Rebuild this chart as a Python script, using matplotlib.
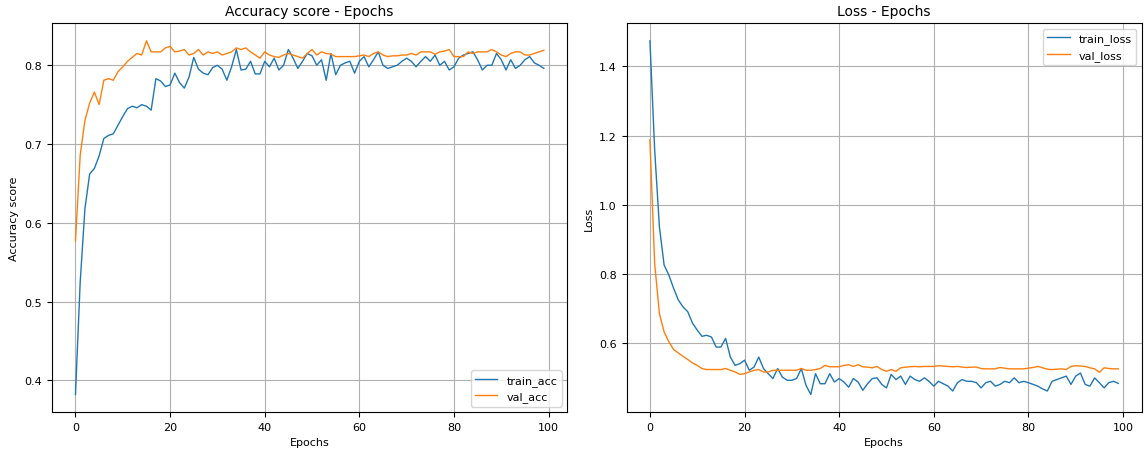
import matplotlib
matplotlib.use('Agg')
import matplotlib.pyplot as plt

# Valores (100 épocas)
epochs = list(range(100))

train_acc = [
    0.382, 0.525, 0.618, 0.662, 0.669, 0.685, 0.707, 0.711, 0.713, 0.724,
    0.735, 0.745, 0.748, 0.746, 0.750, 0.748, 0.743, 0.783, 0.780, 0.773,
    0.775, 0.790, 0.778, 0.771, 0.785, 0.810, 0.795, 0.790, 0.788, 0.797,
    0.800, 0.795, 0.781, 0.798, 0.820, 0.794, 0.795, 0.805, 0.789, 0.789,
    0.805, 0.798, 0.809, 0.794, 0.800, 0.820, 0.809, 0.796, 0.805, 0.815,
    0.812, 0.800, 0.807, 0.781, 0.815, 0.788, 0.800, 0.803, 0.805, 0.790,
    0.805, 0.811, 0.798, 0.807, 0.817, 0.800, 0.796, 0.798, 0.800, 0.805,
    0.809, 0.805, 0.798, 0.805, 0.811, 0.805, 0.813, 0.800, 0.805, 0.794,
    0.798, 0.809, 0.813, 0.815, 0.817, 0.807, 0.794, 0.800, 0.800, 0.815,
    0.807, 0.794, 0.807, 0.796, 0.800, 0.807, 0.811, 0.803, 0.800, 0.796,
]

val_acc = [
    0.577, 0.686, 0.730, 0.752, 0.766, 0.750, 0.781, 0.783, 0.781, 0.792,
    0.798, 0.805, 0.810, 0.815, 0.813, 0.831, 0.817, 0.817, 0.817, 0.822,
    0.824, 0.817, 0.818, 0.820, 0.813, 0.815, 0.820, 0.813, 0.817, 0.815,
    0.817, 0.813, 0.815, 0.817, 0.822, 0.820, 0.822, 0.817, 0.813, 0.809,
    0.817, 0.813, 0.811, 0.810, 0.813, 0.815, 0.813, 0.811, 0.809, 0.815,
    0.820, 0.813, 0.817, 0.815, 0.814, 0.811, 0.811, 0.811, 0.811, 0.811,
    0.812, 0.813, 0.811, 0.815, 0.817, 0.813, 0.811, 0.812, 0.812, 0.813,
    0.813, 0.815, 0.813, 0.817, 0.817, 0.817, 0.814, 0.817, 0.818, 0.820,
    0.811, 0.811, 0.811, 0.817, 0.815, 0.817, 0.817, 0.817, 0.820, 0.817,
    0.813, 0.811, 0.815, 0.817, 0.817, 0.813, 0.813, 0.815, 0.817, 0.819,
]

train_loss = [
    1.474, 1.160, 0.937, 0.826, 0.797, 0.759, 0.725, 0.705, 0.691, 0.658,
    0.638, 0.620, 0.623, 0.618, 0.589, 0.589, 0.614, 0.560, 0.536, 0.541,
    0.551, 0.522, 0.531, 0.560, 0.527, 0.512, 0.498, 0.527, 0.502, 0.493,
    0.493, 0.498, 0.527, 0.478, 0.452, 0.512, 0.483, 0.483, 0.512, 0.488,
    0.498, 0.488, 0.473, 0.498, 0.488, 0.464, 0.483, 0.498, 0.500, 0.481,
    0.471, 0.510, 0.495, 0.505, 0.481, 0.505, 0.495, 0.490, 0.500, 0.490,
    0.476, 0.490, 0.483, 0.476, 0.462, 0.486, 0.495, 0.490, 0.490, 0.486,
    0.471, 0.486, 0.490, 0.476, 0.481, 0.490, 0.486, 0.500, 0.486, 0.490,
    0.486, 0.481, 0.476, 0.468, 0.462, 0.490, 0.495, 0.500, 0.505, 0.481,
    0.505, 0.514, 0.481, 0.476, 0.500, 0.486, 0.471, 0.486, 0.490, 0.484,
]

val_loss = [
    1.188, 0.831, 0.686, 0.633, 0.604, 0.582, 0.572, 0.562, 0.553, 0.543,
    0.536, 0.527, 0.524, 0.524, 0.524, 0.524, 0.527, 0.522, 0.517, 0.510,
    0.512, 0.517, 0.522, 0.524, 0.517, 0.517, 0.522, 0.522, 0.522, 0.522,
    0.522, 0.522, 0.527, 0.522, 0.522, 0.524, 0.527, 0.536, 0.532, 0.532,
    0.532, 0.536, 0.538, 0.533, 0.538, 0.532, 0.531, 0.529, 0.533, 0.524,
    0.519, 0.524, 0.519, 0.529, 0.531, 0.532, 0.533, 0.532, 0.533, 0.533,
    0.533, 0.535, 0.534, 0.533, 0.532, 0.533, 0.531, 0.530, 0.531, 0.531,
    0.527, 0.526, 0.526, 0.526, 0.530, 0.528, 0.526, 0.526, 0.526, 0.526,
    0.528, 0.530, 0.533, 0.529, 0.525, 0.524, 0.525, 0.526, 0.524, 0.533,
    0.535, 0.534, 0.533, 0.529, 0.526, 0.516, 0.529, 0.527, 0.526, 0.526,
]

plt.rcParams['font.size'] = 8

fig, (ax1, ax2) = plt.subplots(1, 2, figsize=(11.44, 4.56), dpi=100)
fig.subplots_adjust(left=0.0455, right=0.998, bottom=0.094, top=0.947, wspace=0.115)

# Acurácia
ax1.plot(epochs, train_acc, label='train_acc', linewidth=1.0)
ax1.plot(epochs, val_acc, label='val_acc', linewidth=1.0)
ax1.set_title('Accuracy score - Epochs', fontsize=10)
ax1.set_xlabel('Epochs')
ax1.set_ylabel('Accuracy score')
ax1.grid(True)
ax1.legend(loc='lower right')

# Perda
ax2.plot(epochs, train_loss, label='train_loss', linewidth=1.0)
ax2.plot(epochs, val_loss, label='val_loss', linewidth=1.0)
ax2.set_title('Loss - Epochs', fontsize=10)
ax2.set_xlabel('Epochs')
ax2.set_ylabel('Loss')
ax2.grid(True)
ax2.legend(loc='upper right')

fig.savefig('out.png')
